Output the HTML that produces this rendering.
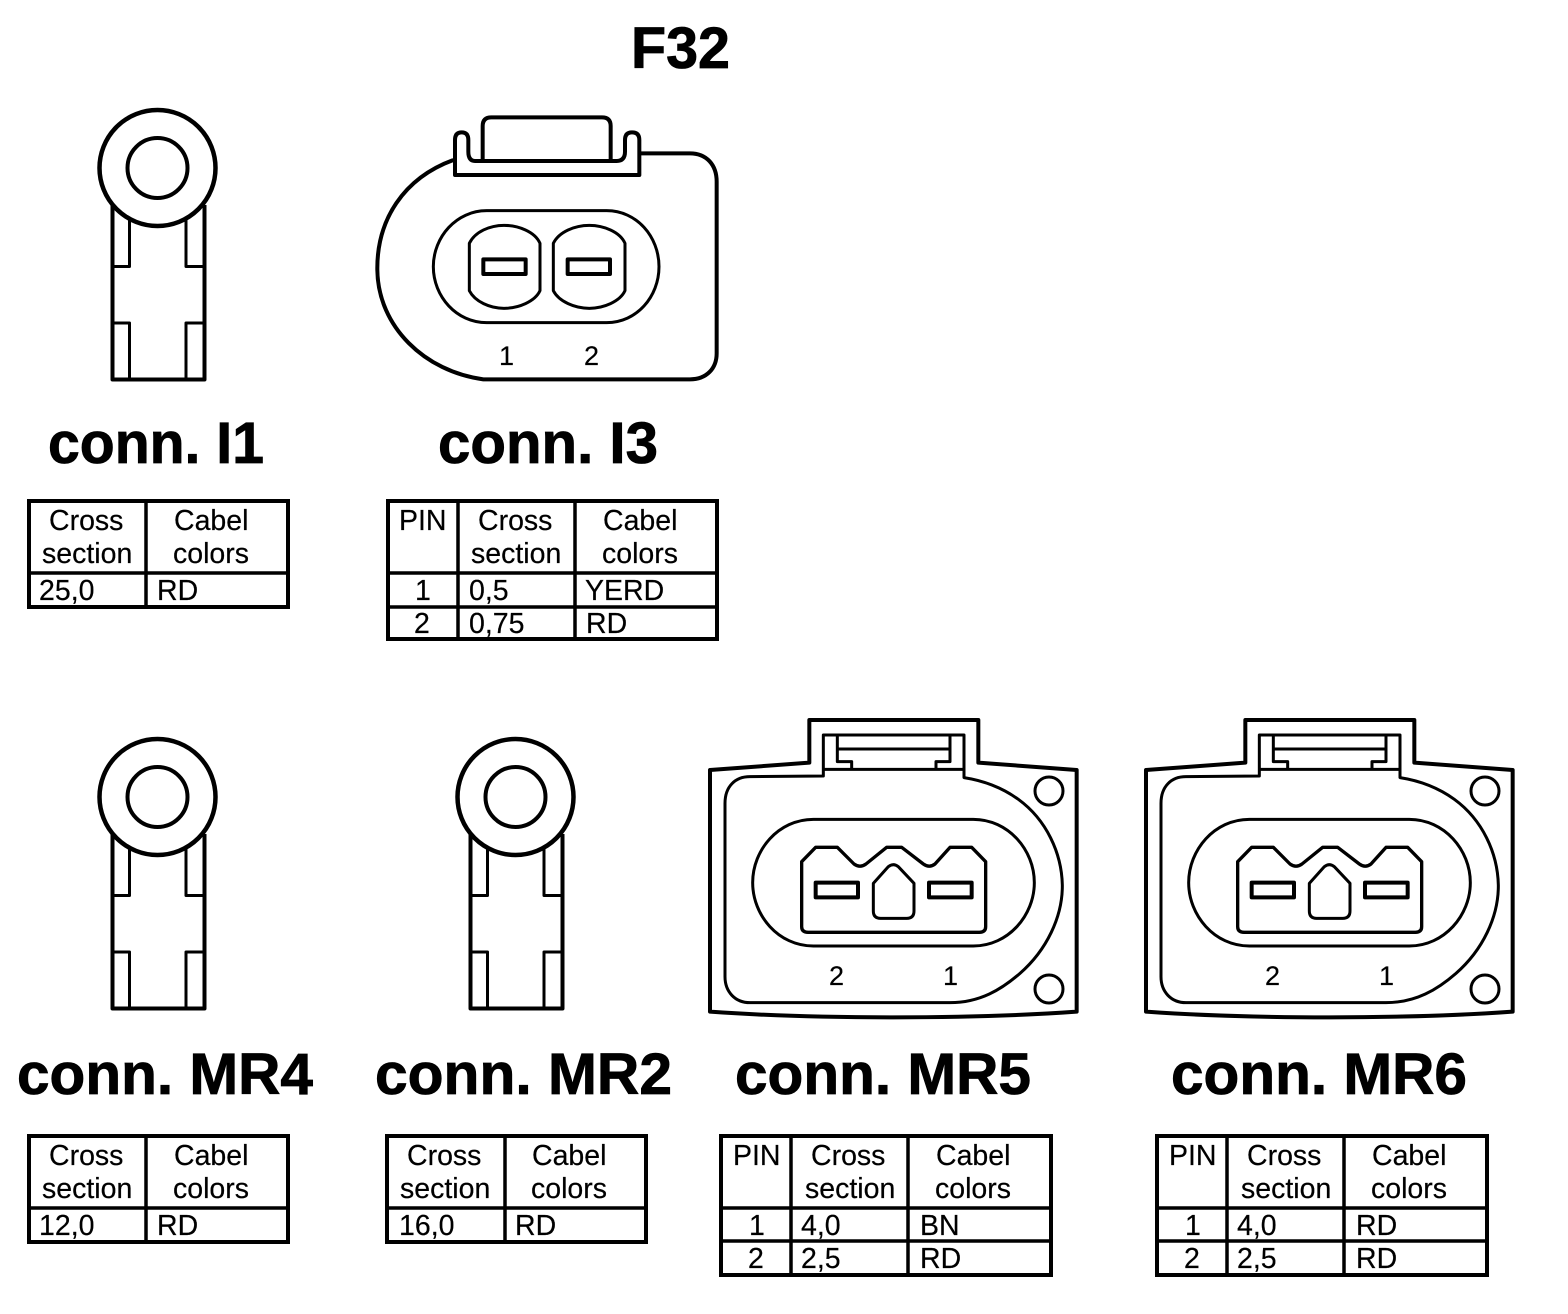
<!DOCTYPE html>
<html><head><meta charset="utf-8"><title>F32</title>
<style>
html,body{margin:0;padding:0;background:#fff}
svg{display:block}
text{font-family:"Liberation Sans",sans-serif;fill:#000}
.h{font-size:58px;font-weight:bold;stroke:#000;stroke-width:.8px}
.t{font-size:28.5px;stroke:#000;stroke-width:.2px}
.n{font-size:27px;stroke:#000;stroke-width:.2px}
.d path,.d circle,.d rect,.d line{fill:none;stroke:#000;stroke-linejoin:round}
.tb rect,.tb line{fill:none;stroke:#000}
.tb rect{stroke-width:4}
.tb line{stroke-width:3.5}
</style></head><body>
<svg width="1568" height="1314" viewBox="0 0 1568 1314" xmlns="http://www.w3.org/2000/svg">
<defs>
<g id="lug" class="d">
<path stroke-width="4" d="M112.500 205V379.500H204.500V205"/>
<path stroke-width="3" d="M129.500 220V266.500H113M186 220V266.500H203M129.500 379V323H113M186 379V323H203"/>
<circle cx="157.500" cy="168" r="58" stroke-width="4.500"/>
<circle cx="157.500" cy="168" r="30" stroke-width="4"/>
</g>
<g id="plug" class="d" transform="translate(700 710) scale(.33333)">
<path stroke-width="12" d="M30 180L328 158V30H835V158L1130 180V905C950 918 760 922 580 922C400 922 210 918 30 905Z"/>
<path stroke-width="9" d="M370 198V75H792V203C850 212 905 232 955 268C1040 330 1085 430 1087 525C1088 620 1040 720 960 790C905 838 840 878 750 878H150C105 878 75 845 75 800V280C75 230 105 200 150 200Z"/>
<path stroke-width="9" d="M370 178H792M412 78V155H455V178M750 78V155H708V178M412 117H750"/>
<circle cx="1047" cy="243" r="42" stroke-width="9"/>
<circle cx="1047" cy="837" r="42" stroke-width="9"/>
<path stroke-width="9" d="M340 328H820C925 328 1003 420 1003 518C1003 616 925 708 820 708H340C235 708 158 616 158 518C158 420 235 328 340 328Z"/>
<path stroke-width="10" d="M305 455L347 412H412L462 462Q480 475 498 462L560 412H605L670 462Q688 475 705 462L750 412H815L857 455V650Q857 667 838 667H324Q305 667 305 650Z"/>
<rect x="347" y="518" width="127" height="44" stroke-width="12"/>
<rect x="687" y="518" width="128" height="44" stroke-width="12"/>
<path stroke-width="9" d="M520 520L565 470Q580 458 595 470L642 520V603Q642 625 620 625H542Q520 625 520 603Z"/>
</g>
</defs>

<text class="h" x="631" y="68" textLength="99" lengthAdjust="spacingAndGlyphs">F32</text>

<use href="#lug"/>
<use href="#lug" y="629"/>
<use href="#lug" x="358" y="629"/>

<g class="d" transform="translate(360 100) scale(.33333)">
<path stroke-width="12" d="M280 180C130 235 50 360 52 510C54 680 195 815 370 838H990C1040 838 1070 805 1070 760V245C1070 195 1040 160 990 160H840"/>
<path stroke-width="12" d="M285 225H838V120Q838 97 816 97Q795 97 795 120V155Q795 183 770 183H345Q325 183 325 155V120Q325 97 305 97Q285 97 285 120Z"/>
<path stroke-width="12" d="M368 183V78Q368 52 394 52H726Q752 52 752 78V183"/>
<path stroke-width="9" d="M380 332H740C830 332 897 410 897 500C897 590 830 668 740 668H380C290 668 220 590 220 500C220 410 290 332 380 332Z"/>
<path stroke-width="9" d="M328 430C345 395 390 376 432 376C475 376 525 395 540 430V572C525 605 475 625 432 625C390 625 345 605 328 572Z"/>
<path stroke-width="9" d="M580 430C597 395 645 376 688 376C730 376 780 395 795 430V572C780 605 730 625 688 625C645 625 597 605 580 572Z"/>
<rect x="370" y="478" width="127" height="44" stroke-width="12"/>
<rect x="623" y="478" width="127" height="44" stroke-width="12"/>
</g>
<text class="n" x="499" y="365">1</text>
<text class="n" x="584" y="365">2</text>

<use href="#plug"/>
<use href="#plug" x="436"/>
<text class="n" x="829" y="985">2</text>
<text class="n" x="943" y="985">1</text>
<text class="n" x="1265" y="985">2</text>
<text class="n" x="1379" y="985">1</text>

<text class="h" x="48" y="463" textLength="216" lengthAdjust="spacingAndGlyphs">conn. I1</text>
<text class="h" x="438" y="463" textLength="220" lengthAdjust="spacingAndGlyphs">conn. I3</text>
<text class="h" x="17" y="1094" textLength="296" lengthAdjust="spacingAndGlyphs">conn. MR4</text>
<text class="h" x="375" y="1094" textLength="297" lengthAdjust="spacingAndGlyphs">conn. MR2</text>
<text class="h" x="735" y="1094" textLength="296" lengthAdjust="spacingAndGlyphs">conn. MR5</text>
<text class="h" x="1171" y="1094" textLength="296" lengthAdjust="spacingAndGlyphs">conn. MR6</text>

<!-- I1 table -->
<g class="t">
<text x="49" y="530">Cross</text><text x="42" y="563">section</text>
<text x="174" y="530">Cabel</text><text x="173" y="563">colors</text>
<text x="39" y="600">25,0</text><text x="157" y="600">RD</text>
</g>
<g class="tb"><rect x="29" y="501" width="259" height="106"/><line x1="146" y1="501" x2="146" y2="607"/><line x1="29" y1="573" x2="288" y2="573"/></g>

<!-- I3 table -->
<g class="t">
<text x="399" y="530">PIN</text>
<text x="478" y="530">Cross</text><text x="471" y="563">section</text>
<text x="603" y="530">Cabel</text><text x="602" y="563">colors</text>
<text x="415" y="600">1</text><text x="469" y="600">0,5</text><text x="585" y="600">YERD</text>
<text x="414" y="633">2</text><text x="469" y="633">0,75</text><text x="586" y="633">RD</text>
</g>
<g class="tb"><rect x="388" y="501" width="329" height="138"/><line x1="458" y1="501" x2="458" y2="639"/><line x1="575" y1="501" x2="575" y2="639"/><line x1="388" y1="573" x2="717" y2="573"/><line x1="388" y1="607" x2="717" y2="607"/></g>

<!-- MR4 table -->
<g class="t">
<text x="49" y="1165">Cross</text><text x="42" y="1198">section</text>
<text x="174" y="1165">Cabel</text><text x="173" y="1198">colors</text>
<text x="39" y="1235">12,0</text><text x="157" y="1235">RD</text>
</g>
<g class="tb"><rect x="29" y="1136" width="259" height="106"/><line x1="146" y1="1136" x2="146" y2="1242"/><line x1="29" y1="1208" x2="288" y2="1208"/></g>

<!-- MR2 table -->
<g class="t">
<text x="407" y="1165">Cross</text><text x="400" y="1198">section</text>
<text x="532" y="1165">Cabel</text><text x="531" y="1198">colors</text>
<text x="399" y="1235">16,0</text><text x="515" y="1235">RD</text>
</g>
<g class="tb"><rect x="387" y="1136" width="259" height="106"/><line x1="505" y1="1136" x2="505" y2="1242"/><line x1="387" y1="1208" x2="646" y2="1208"/></g>

<!-- MR5 table -->
<g class="t">
<text x="733" y="1165">PIN</text>
<text x="811" y="1165">Cross</text><text x="805" y="1198">section</text>
<text x="936" y="1165">Cabel</text><text x="935" y="1198">colors</text>
<text x="749" y="1235">1</text><text x="801" y="1235">4,0</text><text x="920" y="1235">BN</text>
<text x="748" y="1268">2</text><text x="801" y="1268">2,5</text><text x="920" y="1268">RD</text>
</g>
<g class="tb"><rect x="721" y="1136" width="330" height="139"/><line x1="791" y1="1136" x2="791" y2="1275"/><line x1="908" y1="1136" x2="908" y2="1275"/><line x1="721" y1="1208" x2="1051" y2="1208"/><line x1="721" y1="1241" x2="1051" y2="1241"/></g>

<!-- MR6 table -->
<g class="t">
<text x="1169" y="1165">PIN</text>
<text x="1247" y="1165">Cross</text><text x="1241" y="1198">section</text>
<text x="1372" y="1165">Cabel</text><text x="1371" y="1198">colors</text>
<text x="1185" y="1235">1</text><text x="1237" y="1235">4,0</text><text x="1356" y="1235">RD</text>
<text x="1184" y="1268">2</text><text x="1237" y="1268">2,5</text><text x="1356" y="1268">RD</text>
</g>
<g class="tb"><rect x="1157" y="1136" width="330" height="139"/><line x1="1227" y1="1136" x2="1227" y2="1275"/><line x1="1344" y1="1136" x2="1344" y2="1275"/><line x1="1157" y1="1208" x2="1487" y2="1208"/><line x1="1157" y1="1241" x2="1487" y2="1241"/></g>
</svg>
</body></html>
